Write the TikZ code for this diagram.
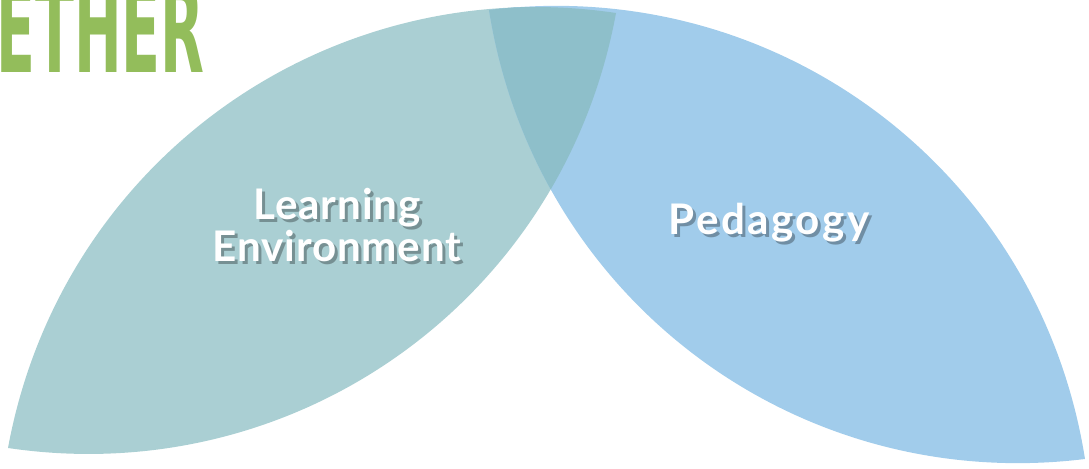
\documentclass[tikz,border=0pt]{standalone}
\usepackage{fontspec}
\setmainfont{Lato}
\newfontfamily\lblfont[LetterSpace=2]{Lato}
\newfontfamily\pedfont[LetterSpace=6]{Lato}
\newfontfamily\etherfont{DejaVu Sans}
\usepackage{tikz}
\definecolor{leafteal}{HTML}{AACFD3}
\definecolor{leafblue}{HTML}{A1CCEB}
\definecolor{leafmix}{HTML}{8EBFCA}
\definecolor{ethergreen}{HTML}{93BD5B}
\tikzstyle{lbl} = [text=white, font=\lblfont\fontsize{24pt}{28pt}\selectfont\bfseries, anchor=base, inner sep=0pt]
\tikzstyle{shd} = [lbl, text=black, text opacity=0.3]
\tikzstyle{ped} = [font=\pedfont\fontsize{24pt}{28pt}\selectfont\bfseries]

\begin{document}
\begin{tikzpicture}[x=0.02cm,y=0.02cm]
			\useasboundingbox (0,0) rectangle (1089,469);
			\clip (0,0) rectangle (1089,469);
			\coordinate (lbot) at (8,21);
			\coordinate (ltop) at (616,456);
			\coordinate (rtop) at (489,459);
			\coordinate (rbot) at (1085,10);
			\fill [leafteal] (lbot) to[bend left=44] (ltop) to[bend left=44] (lbot) -- cycle;
			\fill [leafblue] (rtop) to[bend left=44] (rbot) to[bend left=44] (rtop) -- cycle;
			\begin{scope}
				\clip (lbot) to[bend left=44] (ltop) to[bend left=44] (lbot) -- cycle;
				\fill [leafmix] (rtop) to[bend left=44] (rbot) to[bend left=44] (rtop) -- cycle;
			\end{scope}
			\node [shd] (v1s) at (340,246) {Learning};
			\node [lbl] (v1) at (337,249) {Learning};
			\node [shd] (v2s) at (340,204) {Environment};
			\node [lbl] (v2) at (337,207) {Environment};
			\node [shd,ped] (v3s) at (772,231) {Pedagogy};
			\node [lbl,ped] (v3) at (769,234) {Pedagogy};
			\node [anchor=base east, inner sep=0pt, text=ethergreen, font=\etherfont\fontsize{69pt}{70pt}\selectfont\bfseries] (ether) at (205,396) {\scalebox{0.47}[1]{ETHER}};
		\end{tikzpicture}
\end{document}
